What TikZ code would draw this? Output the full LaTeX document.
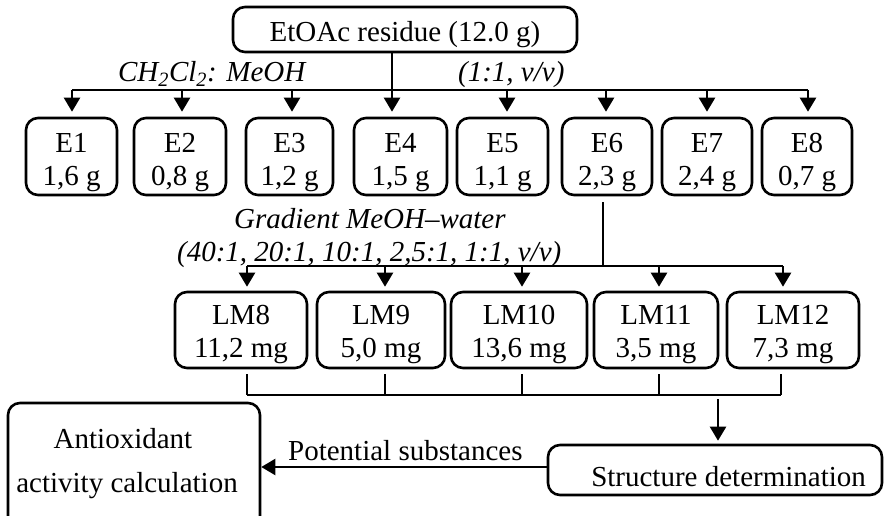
\documentclass[tikz,border=0pt]{standalone}
\usepackage{fontspec}
\setmainfont{Liberation Serif}
\usetikzlibrary{arrows.meta}
\begin{document}
\begin{tikzpicture}[x=1pt,y=-1pt,
  line width=2.3pt,
  box/.style={draw, line width=2.6pt, rounded corners=12pt, inner sep=0pt},
  ebox/.style={box, minimum width=#1, minimum height=77pt},
  lmbox/.style={box, minimum width=#1, minimum height=76pt},
  txt/.style={font=\fontsize{29}{33}\selectfont, inner sep=0pt, align=center},
  itxt/.style={font=\fontsize{29}{33}\selectfont\itshape, inner sep=0pt},
  arr/.style={-{Triangle[length=14pt,width=16pt]}},
]
\useasboundingbox (0,0) rectangle (885,516);
\clip (0,0) rectangle (885,516);

% starting material
\node[box, minimum width=344pt, minimum height=45pt] (top) at (405,29.5) {};
\node[txt, anchor=base] (topt) at (405,42) {EtOAc residue (12.0 g)};

% first column: eight fractions
\node[ebox=91pt] (E1) at (71.5,156.5) {};
\node[ebox=92pt] (E2) at (180,156.5) {};
\node[ebox=87pt] (E3) at (289.5,156.5) {};
\node[ebox=93pt] (E4) at (400.5,156.5) {};
\node[ebox=91pt] (E5) at (502.5,156.5) {};
\node[ebox=90pt] (E6) at (607,156.5) {};
\node[ebox=90pt] (E7) at (707,156.5) {};
\node[ebox=90pt] (E8) at (807,156.5) {};
\node[txt] (E1t) at ([yshift=-6.3pt]E1.center) {E1\\1,6 g};
\node[txt] (E2t) at ([yshift=-6.3pt]E2.center) {E2\\0,8 g};
\node[txt] (E3t) at ([yshift=-6.3pt]E3.center) {E3\\1,2 g};
\node[txt] (E4t) at ([yshift=-6.3pt]E4.center) {E4\\1,5 g};
\node[txt] (E5t) at ([yshift=-6.3pt]E5.center) {E5\\1,1 g};
\node[txt] (E6t) at ([yshift=-6.3pt]E6.center) {E6\\2,3 g};
\node[txt] (E7t) at ([yshift=-6.3pt]E7.center) {E7\\2,4 g};
\node[txt] (E8t) at ([yshift=-6.3pt]E8.center) {E8\\0,7 g};

% eluent labels
\node[itxt, anchor=base west] (sol1) at (117,82) {CH\textsubscript{2}Cl\textsubscript{2}: MeOH};
\node[itxt, anchor=base west] (sol2) at (457,82) {(1:1, v/v)};

% column to fractions
\coordinate (busL) at (72,90);
\coordinate (busR) at (808,90);
\draw (busL) -- (busR);
\draw[arr, shorten >=5pt] (392,0 |- top.south) -- (392,0 |- E4.north);
\foreach \x/\n in {72/E1,182/E2,292/E3,507/E5,606/E6,707/E7,808/E8}
  \draw[arr, shorten >=5pt] (\x,90) -- (\x,0 |- \n.north);

% second column: gradient elution of E6
\node[itxt, anchor=base west] (grad1) at (233,228) {Gradient MeOH--water};
\node[itxt, anchor=base west] (grad2) at (176,261) {(40:1, 20:1, 10:1, 2,5:1, 1:1, v/v)};

\node[lmbox=132pt] (LM8) at (241,330) {};
\node[lmbox=128pt] (LM9) at (381,330) {};
\node[lmbox=136pt] (LM10) at (519,330) {};
\node[lmbox=124pt] (LM11) at (656,330) {};
\node[lmbox=132pt] (LM12) at (793,330) {};
\node[txt] (LM8t) at ([yshift=-4.8pt]LM8.center) {LM8\\11,2 mg};
\node[txt] (LM9t) at ([yshift=-4.8pt]LM9.center) {LM9\\5,0 mg};
\node[txt] (LM10t) at ([yshift=-4.8pt]LM10.center) {LM10\\13,6 mg};
\node[txt] (LM11t) at ([yshift=-4.8pt]LM11.center) {LM11\\3,5 mg};
\node[txt] (LM12t) at ([yshift=-4.8pt]LM12.center) {LM12\\7,3 mg};

\draw ([yshift=-6pt]603,0 |- E6.south) -- (603,266);
\draw (247,266) -- (783,266);
\foreach \x/\n in {247/LM8,385/LM9,522/LM10,659/LM11,783/LM12}
  \draw[arr, shorten >=4pt] (\x,266) -- (\x,0 |- \n.north);

% pooling of the sub-fractions
\foreach \x/\n in {247/LM8,385/LM9,522/LM10,659/LM11,781/LM12}
  \draw ([yshift=-5pt]\x,0 |- \n.south) -- (\x,395);
\draw (247,395) -- (781,395);

% analysis
\node[box, minimum width=334pt, minimum height=50pt] (struct) at (715,470) {};
\node[txt, anchor=base east] (structt) at (867,486) {Structure determination};
\draw[arr, shorten >=3pt] (718,399) -- (718,0 |- struct.north);

\node[box, minimum width=252pt, minimum height=125pt] (anti) at (134,465.5) {};
\node[txt, anchor=base] (anti1) at (123,448) {Antioxidant};
\node[txt, anchor=base] (anti2) at (127,492) {activity calculation};

\draw[arr] (struct.west |- 0,467) -- (anti.east |- 0,467);
\node[txt, anchor=base west] (pot) at (287,460) {Potential substances};
\end{tikzpicture}
\end{document}
